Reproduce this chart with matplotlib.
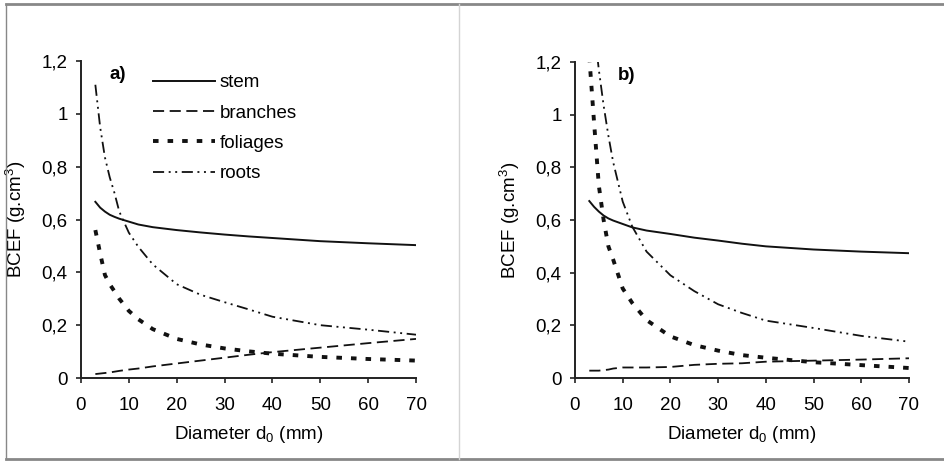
import matplotlib
matplotlib.use("Agg")
import matplotlib.pyplot as plt
from matplotlib.lines import Line2D

plt.rcParams['font.family'] = ['Liberation Sans', 'DejaVu Sans']
plt.rcParams['mathtext.default'] = 'regular'
plt.rcParams['lines.scale_dashes'] = False

# diameter grid (mm)
d = [3, 4, 5, 6, 7, 8, 10, 12, 15, 20, 25, 30, 35, 40, 50, 60, 70]

# panel a)
stem_a = [0.667, 0.645, 0.630, 0.618, 0.610, 0.603, 0.592, 0.581, 0.571, 0.560,
          0.551, 0.543, 0.536, 0.530, 0.518, 0.510, 0.503]
branches_a = [0.015, 0.017, 0.019, 0.021, 0.024, 0.027, 0.032, 0.036, 0.044, 0.055,
              0.066, 0.077, 0.088, 0.098, 0.115, 0.132, 0.148]
foliages_a = [0.560, 0.472, 0.390, 0.355, 0.328, 0.300, 0.254, 0.222, 0.185, 0.148,
              0.127, 0.112, 0.101, 0.092, 0.080, 0.072, 0.066]
roots_a = [1.110, 0.950, 0.835, 0.760, 0.700, 0.630, 0.550, 0.496, 0.430, 0.355,
           0.315, 0.287, 0.260, 0.232, 0.200, 0.183, 0.164]

# panel b)
stem_b = [0.672, 0.650, 0.632, 0.617, 0.606, 0.598, 0.585, 0.572, 0.560, 0.547,
          0.533, 0.522, 0.510, 0.500, 0.488, 0.480, 0.474]
branches_b = [0.028, 0.028, 0.028, 0.030, 0.032, 0.036, 0.040, 0.040, 0.040, 0.042,
              0.050, 0.054, 0.056, 0.062, 0.066, 0.070, 0.075]
foliages_b = [1.220, 0.970, 0.730, 0.600, 0.500, 0.450, 0.340, 0.285, 0.220, 0.158,
              0.125, 0.104, 0.087, 0.077, 0.060, 0.049, 0.038]
roots_b = [1.550, 1.330, 1.170, 1.035, 0.920, 0.820, 0.670, 0.575, 0.480, 0.390,
           0.330, 0.280, 0.247, 0.218, 0.190, 0.160, 0.138]

labels = ['stem', 'branches', 'foliages', 'roots']
xticks = [0, 10, 20, 30, 40, 50, 60, 70]
yticks = [0, 0.2, 0.4, 0.6, 0.8, 1.0, 1.2]
yticklabels = ['0', '0,2', '0,4', '0,6', '0,8', '1', '1,2']

styles = [
    dict(color='#111111', lw=1.4, ls='-'),
    dict(color='#111111', lw=1.3, dashes=(8, 4)),
    dict(color='#111111', lw=2.8, dashes=(4, 6.5)),
    dict(color='#111111', lw=1.3, dashes=(8, 3.3, 1.4, 3.3, 1.4, 3.3)),
]

fs = 13.5

fig = plt.figure(figsize=(9.44, 4.61), dpi=100)
ax_a = fig.add_axes([0.0858, 0.18, 0.3549, 0.6877])
ax_b = fig.add_axes([0.6091, 0.18, 0.3538, 0.6855])

panels = [
    (ax_a, [stem_a, branches_a, foliages_a, roots_a], 'a)', 6.0),
    (ax_b, [stem_b, branches_b, foliages_b, roots_b], 'b)', 9.0),
]

for ax, series, tag, tag_x in panels:
    for vals, st, lab in zip(series, styles, labels):
        ax.plot(d, vals, label=lab, **st)
    ax.set_xlim(0, 70)
    ax.set_ylim(0, 1.2)
    ax.set_xticks(xticks)
    ax.set_yticks(yticks)
    ax.set_yticklabels(yticklabels)
    ax.tick_params(axis='both', labelsize=fs, length=3.6, width=1.2, color='#222222')
    ax.tick_params(axis='y', pad=6)
    ax.tick_params(axis='x', pad=10)
    for s in ['top', 'right']:
        ax.spines[s].set_visible(False)
    for s in ['left', 'bottom']:
        ax.spines[s].set_linewidth(1.4)
        ax.spines[s].set_color('#222222')
    ax.set_ylabel('BCEF (g.cm$^3$)', fontsize=fs)
    ax.set_xlabel('Diameter d$_0$ (mm)', fontsize=fs)
    ax.yaxis.set_label_coords(-0.158, 0.5)
    ax.xaxis.set_label_coords(0.5, -0.145)
    ax.text(tag_x, 1.15, tag, fontsize=fs, fontweight='bold', va='center', ha='left')

ax_a.legend(loc='upper left', bbox_to_anchor=(0.215, 0.958), frameon=False,
            fontsize=fs, handlelength=3.3, handletextpad=0.25, labelspacing=0.7,
            borderpad=0, borderaxespad=0)

# outer frame and divider
fig.add_artist(Line2D([6 / 944, 944 / 944], [1 - 4 / 461, 1 - 4 / 461], color='#888888', lw=2))
fig.add_artist(Line2D([6 / 944, 944 / 944], [1 - 459 / 461, 1 - 459 / 461], color='#888888', lw=2))
fig.add_artist(Line2D([6 / 944, 6 / 944], [1 - 459 / 461, 1 - 4 / 461], color='#888888', lw=1))
fig.add_artist(Line2D([459 / 944, 459 / 944], [1 - 459 / 461, 1 - 4 / 461], color='#d4d4d4', lw=1))

fig.savefig('out.png', dpi=100)
